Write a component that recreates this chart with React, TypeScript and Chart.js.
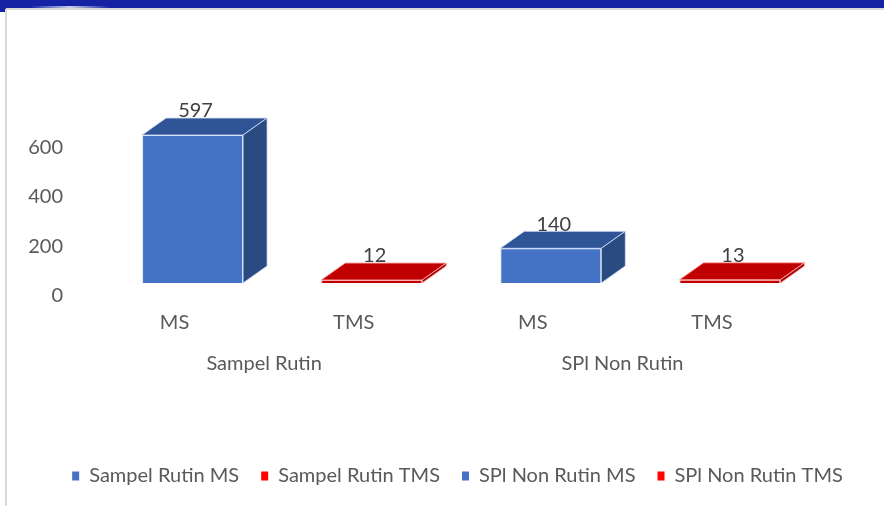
import React, { useEffect, useRef } from "react";
import { Chart, registerables } from "chart.js";

Chart.register(...registerables);

const categories = ["MS", "TMS", "MS", "TMS"];
const groups = ["Sampel Rutin", "SPl Non Rutin"];
const seriesNames = ["Sampel Rutin MS", "Sampel Rutin TMS", "SPl Non Rutin MS", "SPl Non Rutin TMS"];
const sampelRutinMS = [597, null, null, null];
const sampelRutinTMS = [null, 12, null, null];
const splNonRutinMS = [null, null, 140, null];
const splNonRutinTMS = [null, null, null, 13];
const seriesValues = [sampelRutinMS, sampelRutinTMS, splNonRutinMS, splNonRutinTMS];
const yMin = 0;
const yMax = 600;
const yStep = 200;

const frontColors = ["#4472C4", "#C00000", "#4472C4", "#C00000"];
const topColors = ["#2F5597", "#C00000", "#2F5597", "#C00000"];
const sideColors = ["#2A4B82", "#A80000", "#2A4B82", "#A80000"];
const edgeColors = ["rgba(210,225,250,0.8)", "rgba(255,170,170,0.9)", "rgba(210,225,250,0.8)", "rgba(255,170,170,0.9)"];
const legendColors = ["#4472C4", "#FF0000", "#4472C4", "#FF0000"];

const FONT = "Lato, 'Open Sans', sans-serif";
const FS = 20;
const TEXT = "#595959";
const DX = 24;
const DY = 17;

const bar3d = {
  id: "bar3d",
  afterDatasetsDraw(chart: any) {
    const ctx = chart.ctx;
    const labels: { t: string; x: number; y: number }[] = [];
    chart.data.datasets.forEach((ds: any, di: number) => {
      const meta = chart.getDatasetMeta(di);
      meta.data.forEach((el: any, i: number) => {
        const v = ds.data[i];
        if (v == null) return;
        const { x, y, base, width } = el.getProps(["x", "y", "base", "width"], true);
        const l = x - width / 2;
        const r = x + width / 2;
        ctx.save();
        ctx.lineWidth = 1;
        ctx.strokeStyle = edgeColors[di];
        ctx.beginPath();
        ctx.moveTo(l, y);
        ctx.lineTo(r, y);
        ctx.lineTo(r + DX, y - DY);
        ctx.lineTo(l + DX, y - DY);
        ctx.closePath();
        ctx.fillStyle = topColors[di];
        ctx.fill();
        ctx.stroke();
        ctx.beginPath();
        ctx.moveTo(r, y);
        ctx.lineTo(r + DX, y - DY);
        ctx.lineTo(r + DX, base - DY);
        ctx.lineTo(r, base);
        ctx.closePath();
        ctx.fillStyle = sideColors[di];
        ctx.fill();
        ctx.stroke();
        ctx.restore();
        labels.push({ t: String(v), x: x + 3, y: y - 24 });
      });
    });
    ctx.save();
    ctx.font = `${FS}px ${FONT}`;
    ctx.fillStyle = "#404040";
    ctx.textAlign = "center";
    ctx.textBaseline = "middle";
    labels.forEach((lb) => ctx.fillText(lb.t, lb.x, lb.y));
    ctx.restore();
  },
};

export default function App() {
  const ref = useRef<HTMLCanvasElement | null>(null);
  useEffect(() => {
    if (!ref.current) return;
    const chart = new Chart(ref.current, {
      type: "bar",
      data: {
        labels: categories,
        datasets: seriesNames.map((name, i) => ({
          label: name,
          data: seriesValues[i],
          backgroundColor: frontColors[i],
          borderColor: edgeColors[i],
          borderWidth: 1,
          categoryPercentage: 1,
          barPercentage: 0.564,
          skipNull: true,
        })),
      },
      options: {
        responsive: false,
        animation: false,
        devicePixelRatio: 1,
        layout: { padding: { left: 20, right: -11, top: 134.3, bottom: 10 } },
        plugins: {
          tooltip: { enabled: false },
          legend: {
            position: "bottom",
            labels: {
              boxWidth: 7,
              boxHeight: 9,
              padding: 22,
              color: TEXT,
              font: { family: FONT, size: FS },
              generateLabels: () =>
                seriesNames.map((n, i) => ({
                  text: n,
                  fillStyle: legendColors[i],
                  strokeStyle: legendColors[i],
                  lineWidth: 0,
                  hidden: false,
                  datasetIndex: i,
                  fontColor: TEXT,
                })),
            },
          },
        },
        scales: {
          y: {
            min: yMin,
            max: yMax,
            ticks: {
              stepSize: yStep,
              padding: 40,
              labelOffset: 13,
              color: TEXT,
              font: { family: FONT, size: FS },
            },
            grid: { display: false, drawTicks: false },
            border: { display: false },
            afterFit: (s: any) => {
              s.width = 83;
            },
          },
          yR: {
            type: "linear",
            position: "right",
            ticks: { display: false },
            grid: { display: false, drawTicks: false },
            border: { display: false },
            afterFit: (s: any) => {
              s.width = 75.5;
            },
          },
          x: {
            position: "bottom",
            ticks: {
              padding: 28,
              labelOffset: -18,
              color: TEXT,
              font: { family: FONT, size: FS },
              maxRotation: 0,
            },
            grid: { display: false, drawTicks: false },
            border: { display: false },
            afterFit: (s: any) => {
              s.height = 50;
            },
          },
          x2: {
            type: "category",
            position: "bottom",
            labels: groups,
            offset: true,
            ticks: {
              padding: 19,
              labelOffset: -18,
              color: TEXT,
              font: { family: FONT, size: FS },
              maxRotation: 0,
            },
            grid: { display: false, drawTicks: false },
            border: { display: false },
            afterFit: (s: any) => {
              s.height = 111;
            },
          },
        },
      },
      plugins: [bar3d],
    } as any);
    return () => chart.destroy();
  }, []);

  return (
    <div style={{ position: "fixed", left: 0, top: 0, width: 884, height: 506, background: "#ffffff", overflow: "hidden" }}>
      <div style={{ position: "absolute", left: 0, top: 0, width: 884, height: 8, background: "#1522A3" }} />
      <div style={{ position: "absolute", left: 30, top: 6, width: 80, height: 2, background: "linear-gradient(90deg, rgba(255,255,255,0), rgba(220,225,245,0.9), rgba(255,255,255,0))" }} />
      <div style={{ position: "absolute", left: 0, top: 8, width: 6, height: 4, background: "#1522A3" }} />
      <div style={{ position: "absolute", left: 6, top: 8, width: 878, height: 2, background: "#D9D9D9" }} />
      <div style={{ position: "absolute", left: 5, top: 9, width: 2, height: 497, background: "#D9D9D9" }} />
      <canvas ref={ref} width={884} height={506} style={{ position: "absolute", left: 0, top: 0, display: "block" }} />
    </div>
  );
}
